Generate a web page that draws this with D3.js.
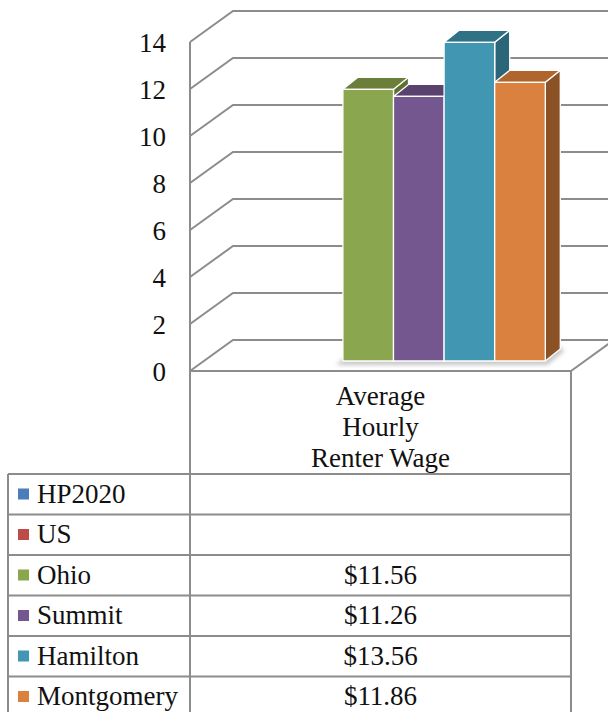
<!DOCTYPE html>
<html>
<head>
<meta charset="utf-8">
<script src="https://cdn.jsdelivr.net/npm/d3@7/dist/d3.min.js"></script>
<style>
  html, body { margin: 0; padding: 0; background: #fff; }
  svg { display: block; }
  text { font-family: "Liberation Serif", "Times New Roman", serif; fill: #111; }
</style>
</head>
<body>
<svg id="chart" width="608" height="712"></svg>
<script>
// ---- data ----
const categoryLines = ["Average", "Hourly", "Renter Wage"];
const seriesNames = ["HP2020", "US", "Ohio", "Summit", "Hamilton", "Montgomery"];
const wageValues = [null, null, 11.56, 11.26, 13.56, 11.86];
const yTickValues = [0, 2, 4, 6, 8, 10, 12, 14];

// ---- palette (front / top / side faces) ----
const frontColors = ["#4a7dba", "#bd4b48", "#8aa64e", "#73578e", "#4197b1", "#da8140"];
const topColors   = ["#3a6391", "#933a38", "#6b7f3a", "#5a426f", "#2f7286", "#b0652e"];
const sideColors  = ["#33577f", "#82332f", "#5d6f32", "#4d385f", "#2a6677", "#8b5226"];

const svg = d3.select("#chart");
const gridColor = "#8c8c8c";

// ---- 3D frame geometry ----
const plotLeft = 190, plotRight = 571;
const wallDx = 43, wallDy = -31;        // depth of the walls
const barShiftX = 13, barShiftY = -10;  // plane where the bars stand
const barDx = 15, barDy = -12;          // depth of each bar

const y = d3.scaleLinear().domain([0, 14]).range([371, 42]);
const x = d3.scaleBand()
  .domain(seriesNames)
  .range([plotLeft, plotRight])
  .paddingInner(0)
  .paddingOuter(0.765);

const frame = svg.append("g").attr("fill", "none").attr("stroke", gridColor).attr("stroke-width", 2);

// side-wall diagonals + back-wall gridlines
yTickValues.forEach(v => {
  const yf = y(v);
  frame.append("path")
    .attr("d", `M${plotLeft},${yf}L${plotLeft + wallDx},${yf + wallDy}L${plotRight + wallDx + 40},${yf + wallDy}`);
});
// front vertical axis
frame.append("line")
  .attr("x1", plotLeft).attr("x2", plotLeft)
  .attr("y1", y(14)).attr("y2", y(0));
// floor right edge
frame.append("line")
  .attr("x1", plotRight).attr("y1", y(0))
  .attr("x2", plotRight + wallDx).attr("y2", y(0) + wallDy);

// y-axis labels
svg.append("g").selectAll("text")
  .data(yTickValues)
  .join("text")
  .attr("x", 166)
  .attr("y", d => y(d) + 10)
  .attr("text-anchor", "end")
  .attr("font-size", 27)
  .text(d => d);

// ---- bars ----
const defs = svg.append("defs");
defs.append("filter").attr("id", "soft")
  .attr("x", "-20%").attr("y", "-20%").attr("width", "140%").attr("height", "140%")
  .append("feGaussianBlur").attr("stdDeviation", 2.2);

const barData = seriesNames.map((name, i) => ({ name, value: wageValues[i], i }))
  .filter(d => d.value != null);

const base = y(0) + barShiftY;
const first = barData[0], last = barData[barData.length - 1];
const shX0 = x(first.name) + barShiftX, shX1 = x(last.name) + x.bandwidth() + barShiftX;

// floor shadow below the bar group
svg.append("path")
  .attr("d", `M${shX0 - 7},${base + 4}L${shX1 + 2},${base + 4}L${shX1 + barDx + 4},${base + barDy + 2}L${shX1 + barDx},${base + barDy - 2}L${shX0},${base - 2}Z`)
  .attr("fill", "#9a9a9a")
  .attr("opacity", 0.55)
  .attr("filter", "url(#soft)");

const bars = svg.append("g")
  .attr("stroke", "#ffffff").attr("stroke-width", 1.3).attr("stroke-linejoin", "round");

barData.forEach(d => {
  const x0 = x(d.name) + barShiftX;
  const x1 = x0 + x.bandwidth();
  const yt = y(d.value) + barShiftY;
  const g = bars.append("g");
  g.append("path") // side face
    .attr("d", `M${x1},${yt}L${x1 + barDx},${yt + barDy}L${x1 + barDx},${base + barDy}L${x1},${base}Z`)
    .attr("fill", sideColors[d.i]);
  g.append("path") // top face
    .attr("d", `M${x0},${yt}L${x0 + barDx},${yt + barDy}L${x1 + barDx},${yt + barDy}L${x1},${yt}Z`)
    .attr("fill", topColors[d.i]);
  g.append("rect") // front face
    .attr("x", x0).attr("y", yt)
    .attr("width", x1 - x0).attr("height", base - yt)
    .attr("fill", frontColors[d.i]);
});

// ---- data table ----
const tableLeft = 8, tableTop = 474, rowH = 40.5;
const headerTop = y(0);
const tbl = svg.append("g").attr("stroke", gridColor).attr("stroke-width", 2).attr("fill", "none");

// header cell borders
tbl.append("line").attr("x1", plotLeft).attr("x2", plotLeft).attr("y1", headerTop).attr("y2", 712 + 5);
tbl.append("line").attr("x1", plotRight).attr("x2", plotRight).attr("y1", headerTop).attr("y2", 712 + 5);
tbl.append("line").attr("x1", plotLeft).attr("x2", plotRight).attr("y1", headerTop).attr("y2", headerTop);
tbl.append("line").attr("x1", tableLeft).attr("x2", tableLeft).attr("y1", tableTop).attr("y2", 712 + 5);
seriesNames.forEach((s, i) => {
  const ty = tableTop + i * rowH;
  tbl.append("line").attr("x1", tableLeft).attr("x2", plotRight).attr("y1", ty).attr("y2", ty);
});
tbl.append("line").attr("x1", tableLeft).attr("x2", plotRight)
  .attr("y1", tableTop + seriesNames.length * rowH).attr("y2", tableTop + seriesNames.length * rowH);

// category header text
const cx = (plotLeft + plotRight) / 2;
svg.append("g").selectAll("text")
  .data(categoryLines)
  .join("text")
  .attr("x", cx)
  .attr("y", (d, i) => 405 + i * 31)
  .attr("text-anchor", "middle")
  .attr("font-size", 27)
  .text(d => d);

// legend keys, series names and values
const rows = svg.append("g").selectAll("g")
  .data(seriesNames)
  .join("g")
  .attr("transform", (d, i) => `translate(0,${tableTop + i * rowH})`);

rows.append("rect")
  .attr("x", 18).attr("y", 14.5)
  .attr("width", 11).attr("height", 11)
  .attr("fill", (d, i) => frontColors[i]);

rows.append("text")
  .attr("x", 37).attr("y", 28.5)
  .attr("font-size", 27)
  .text(d => d);

rows.append("text")
  .attr("x", cx).attr("y", 28.5)
  .attr("text-anchor", "middle")
  .attr("font-size", 27)
  .text((d, i) => wageValues[i] == null ? "" : "$" + wageValues[i].toFixed(2));
</script>
</body>
</html>
